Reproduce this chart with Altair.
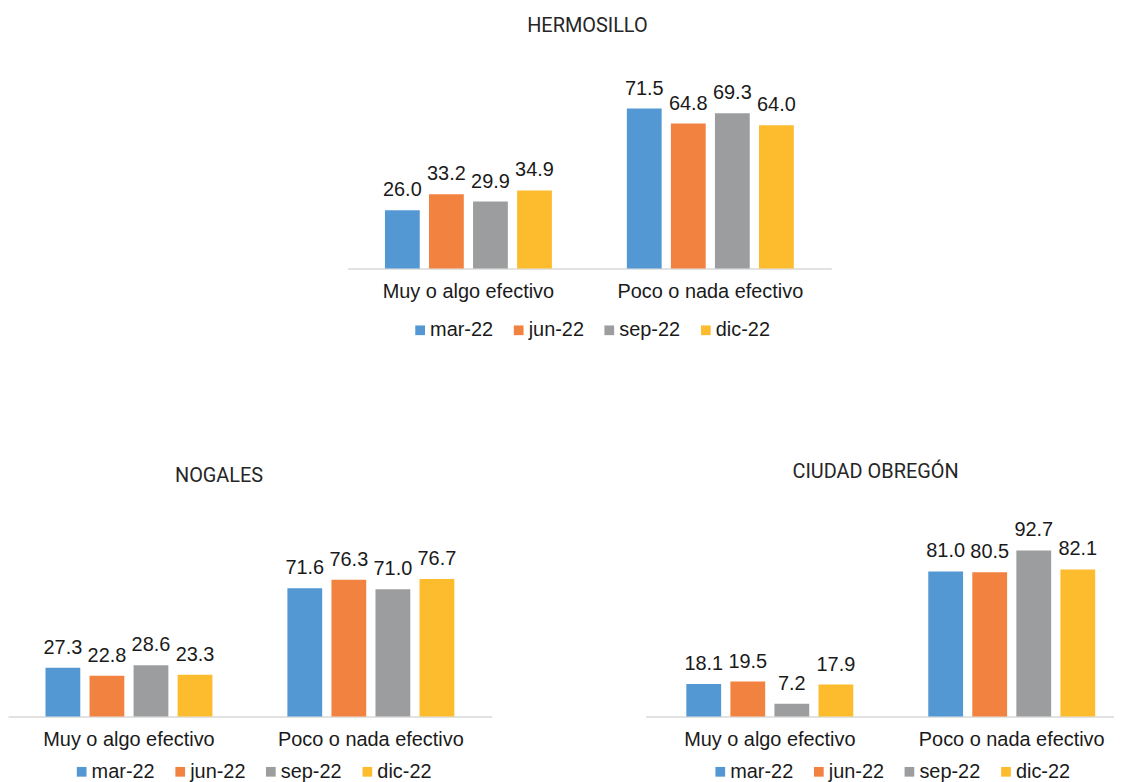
import altair as alt
import pandas as pd

categories = ["Muy o algo efectivo", "Poco o nada efectivo"]
periods = ["mar-22", "jun-22", "sep-22", "dic-22"]
colors = ["#5397d3", "#f28240", "#9b9d9e", "#fcbc2d"]

hermosillo_muy = [26.0, 33.2, 29.9, 34.9]
hermosillo_poco = [71.5, 64.8, 69.3, 64.0]
nogales_muy = [27.3, 22.8, 28.6, 23.3]
nogales_poco = [71.6, 76.3, 71.0, 76.7]
obregon_muy = [18.1, 19.5, 7.2, 17.9]
obregon_poco = [81.0, 80.5, 92.7, 82.1]

TXT_FONT = "Liberation Sans"
TXT_COLOR = "#1a1a1a"


def make_df(muy, poco):
    rows = []
    for cat, vals in zip(categories, [muy, poco]):
        for p, v in zip(periods, vals):
            rows.append({"cat": cat, "period": p, "value": v})
    return pd.DataFrame(rows)


def panel(title, muy, poco, ymax, width, pad_outer, align, legend_y, offset, tdx, tdy, legend_x):
    df = make_df(muy, poco)
    base = alt.Chart(df).encode(
        x=alt.X(
            "cat:N",
            sort=categories,
            scale=alt.Scale(paddingInner=0.31, paddingOuter=pad_outer, align=align),
            axis=alt.Axis(
                title=None,
                ticks=False,
                domain=True,
                domainColor="#d9d9d9",
                domainWidth=1.5,
                labelFont=TXT_FONT,
                labelFontSize=20,
                labelColor=TXT_COLOR,
                labelPadding=13,
                labelAngle=0,
                labelLimit=0,
                grid=False,
            ),
        ),
        xOffset=alt.XOffset(
            "period:N", sort=periods, scale=alt.Scale(paddingInner=0.21, paddingOuter=0)
        ),
        y=alt.Y("value:Q", scale=alt.Scale(domain=[0, ymax], nice=False), axis=None),
    )
    bars = base.mark_bar().encode(
        color=alt.Color(
            "period:N",
            sort=periods,
            scale=alt.Scale(domain=periods, range=colors),
            legend=alt.Legend(
                title=None,
                orient="none",
                legendX=legend_x,
                legendY=legend_y,
                direction="horizontal",
                symbolType="square",
                symbolSize=95,
                symbolStrokeWidth=0,
                labelFont=TXT_FONT,
                labelFontSize=20,
                labelColor=TXT_COLOR,
                labelOffset=0,
                columnPadding=15,
                padding=0,
            ),
        )
    )
    text = base.mark_text(
        dy=-14, baseline="alphabetic", fontSize=20, font=TXT_FONT, color=TXT_COLOR
    ).encode(text=alt.Text("value:Q", format=".1f"))
    return alt.layer(bars, text).properties(
        width=width,
        height=200,
        title=alt.Title(
            title,
            font="Roboto",
            fontSize=20,
            fontWeight="normal",
            color="#262626",
            offset=offset,
            anchor="middle",
            dx=tdx,
            dy=tdy,
        ),
    )


herm = panel("HERMOSILLO", hermosillo_muy, hermosillo_poco, 88.9, 486, 0.155, 0.5, 252, 34, -2, 0, 63)
nog = panel("NOGALES", nogales_muy, nogales_poco, 111.1, 486, 0.155, 0.5, 245.5, 33, -31, 1, 64)
obr = panel("CIUDAD OBREGÓN", obregon_muy, obregon_poco, 111.1, 470, 0.122, 0.69, 245.5, 33, -4, -3, 65)

spacer = (
    alt.Chart(pd.DataFrame({"v": [0]}))
    .mark_text(text="", opacity=0)
    .encode(x=alt.value(0), y=alt.value(0))
    .properties(width=341, height=394)
)

res = dict(x="independent", y="independent", color="independent", xOffset="independent")

top_row = alt.hconcat(spacer, herm, spacing=0).resolve_scale(**res).resolve_legend(color="independent")
bottom_row = alt.hconcat(nog, obr, spacing=154.5).resolve_scale(**res).resolve_legend(color="independent")

chart = (
    alt.vconcat(top_row, bottom_row, spacing=0)
    .resolve_scale(**res)
    .resolve_legend(color="independent")
    .properties(padding={"left": 0, "top": 6, "right": 0, "bottom": 0}, background="white")
    .configure_view(stroke=None)
)

chart.save("out.html", embed_options={"renderer": "svg", "actions": False})
